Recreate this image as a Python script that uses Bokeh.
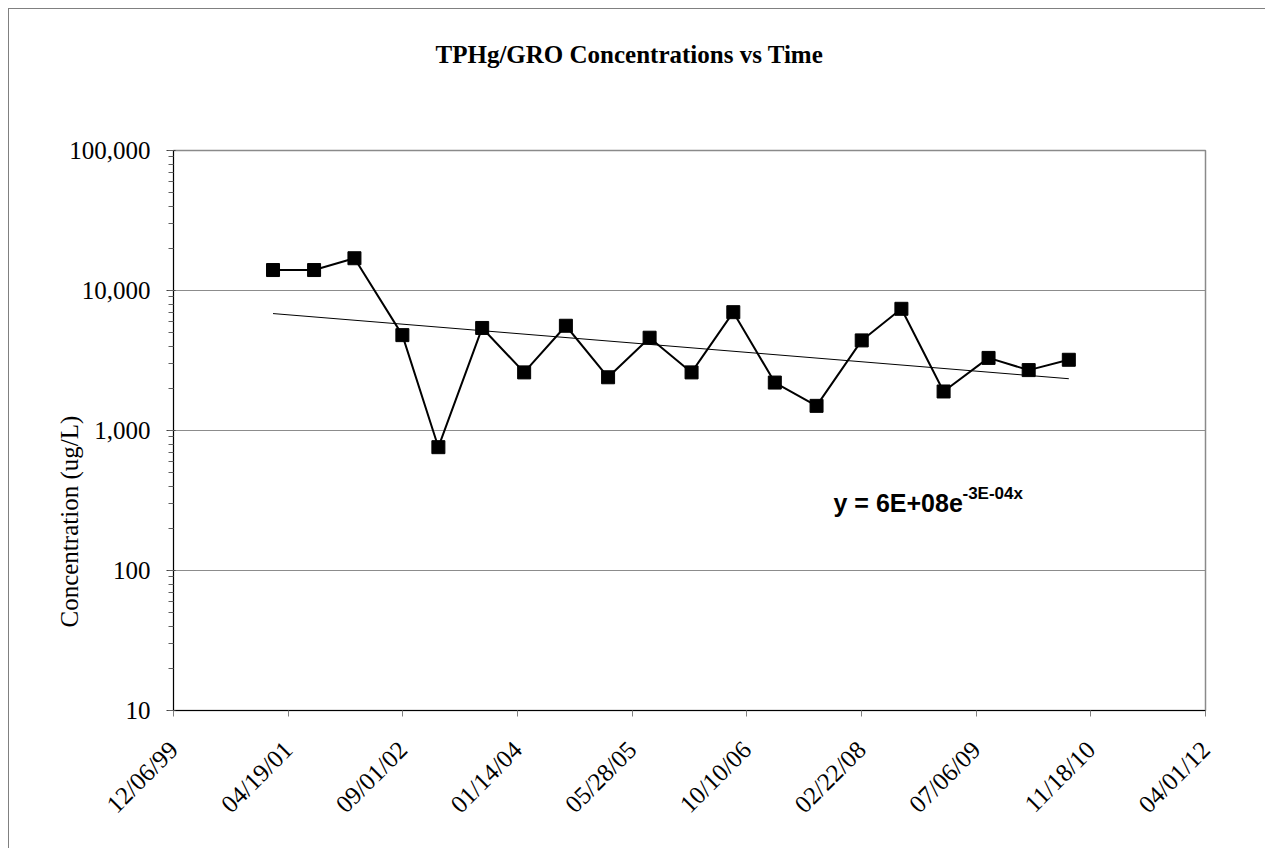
import numpy as np
import pandas as pd
from bokeh.plotting import figure
from bokeh.models import Range1d, FixedTicker, NumeralTickFormatter, Label, ColumnDataSource, LogTicker, Title
from bokeh.embed import file_html
from bokeh.resources import INLINE
from math import pi

# ---------------- data ----------------
sample_dates = ["2001-02-12", "2001-08-10", "2002-02-02", "2002-08-30", "2003-02-03",
                "2003-08-13", "2004-02-12", "2004-08-12", "2005-02-12", "2005-08-12",
                "2006-02-11", "2006-08-12", "2007-02-09", "2007-08-10", "2008-02-23",
                "2008-08-14", "2009-02-14", "2009-08-29", "2010-02-20", "2010-08-14"]
concentrations = [14000, 14000, 17000, 4800, 760, 5400, 2600, 5600, 2400, 4600,
                  2600, 7000, 2200, 1500, 4400, 7400, 1900, 3300, 2700, 3200]
x_tick_labels = ["12/06/99", "04/19/01", "09/01/02", "01/14/04", "05/28/05",
                 "10/10/06", "02/22/08", "07/06/09", "11/18/10", "04/01/12"]
y_ticks = [10, 100, 1000, 10000, 100000]
title_text = "TPHg/GRO Concentrations vs Time"
y_label_text = "Concentration (ug/L)"
eq_main = "y = 6E+08e"
eq_sup = "-3E-04x"

EPOCH = pd.Timestamp("1899-12-30")

def to_serial(ts):
    return [int((t - EPOCH).days) for t in ts]

x_serial = to_serial(pd.to_datetime(sample_dates))
tick_serial = to_serial(pd.to_datetime(x_tick_labels, format="%m/%d/%y"))

# exponential trend (least squares on ln y), as Excel does
coef = np.polyfit(np.array(x_serial, dtype=float), np.log(np.array(concentrations, dtype=float)), 1)
trend_x = [x_serial[0], x_serial[-1]]
trend_y = [float(np.exp(coef[1] + coef[0] * xv)) for xv in trend_x]

# ---------------- figure ----------------
p = figure(frame_width=1032, frame_height=560,
           min_border_left=164, min_border_right=60, min_border_top=141, min_border_bottom=138,
           x_range=Range1d(tick_serial[0], tick_serial[-1]),
           y_range=Range1d(y_ticks[0], y_ticks[-1]),
           y_axis_type="log", output_backend="svg", toolbar_location=None,
           background_fill_color="white", border_fill_color="white", title=None)
p.styles = {"margin-left": "8px", "margin-top": "8px",
            "border-left": "1px solid #808080", "border-top": "1px solid #808080"}

# spacer between frame and title (innermost above panel), then the title
p.add_layout(Title(text=" ", text_font_size="1px", standoff=80), "above")
p.add_layout(Title(text=title_text, text_font="Liberation Serif", text_font_size="25px",
                   text_font_style="bold", text_color="black", align="left", offset=262,
                   vertical_align="bottom", standoff=0), "above")

p.outline_line_color = "#8a8a8a"
p.outline_line_width = 1.5
p.xgrid.visible = False
p.ygrid.grid_line_color = "#8c8c8c"
p.ygrid.grid_line_width = 1
p.ygrid.ticker = FixedTicker(ticks=y_ticks)

# x axis
p.xaxis.ticker = FixedTicker(ticks=tick_serial)
p.xaxis.major_label_overrides = {t: lab for t, lab in zip(tick_serial, x_tick_labels)}
p.xaxis.major_label_orientation = pi / 4
p.xaxis.major_label_text_font = "Liberation Serif"
p.xaxis.major_label_text_font_size = "25px"
p.xaxis.major_label_text_color = "black"
p.xaxis.major_label_standoff = 29
p.xaxis.axis_line_color = "black"
p.xaxis.major_tick_line_color = "#808080"
p.xaxis.major_tick_out = 6
p.xaxis.major_tick_in = 0
p.xaxis.minor_tick_line_color = None

# y axis
p.yaxis.ticker = LogTicker(desired_num_ticks=5, num_minor_ticks=10)
p.yaxis.formatter = NumeralTickFormatter(format="0,0")
p.yaxis.major_label_text_font = "Liberation Serif"
p.yaxis.major_label_text_font_size = "25px"
p.yaxis.major_label_text_color = "black"
p.yaxis.major_label_standoff = 16
p.yaxis.axis_line_color = "black"
p.yaxis.major_tick_line_color = "#404040"
p.yaxis.major_tick_out = 7
p.yaxis.major_tick_in = 2
p.yaxis.minor_tick_line_color = "#606060"
p.yaxis.minor_tick_out = 5
p.yaxis.minor_tick_in = 0

# y axis title as a left-side title, starting near the bottom of the axis
p.add_layout(Title(text=y_label_text, text_font="Liberation Serif", text_font_size="25px",
                   text_font_style="normal", text_color="black", align="left",
                   offset=83, vertical_align="bottom", standoff=-32), "left")

# data
src = ColumnDataSource(dict(x=x_serial, y=concentrations))
p.line("x", "y", source=src, line_color="black", line_width=2)
p.scatter("x", "y", source=src, marker="square", size=13, fill_color="black", line_color="black")
p.line(trend_x, trend_y, line_color="black", line_width=1)

# trend equation (screen units relative to frame)
p.add_layout(Label(x=660, y=208, x_units="screen", y_units="screen", text=eq_main,
                   text_font="Liberation Sans", text_font_size="25px", text_font_style="bold",
                   text_align="left", text_baseline="alphabetic", text_color="black"))
p.add_layout(Label(x=789, y=217, x_units="screen", y_units="screen", text=eq_sup,
                   text_font="Liberation Sans", text_font_size="17px", text_font_style="bold",
                   text_align="left", text_baseline="alphabetic", text_color="black"))

open("out.html", "w").write(file_html(p, INLINE))
